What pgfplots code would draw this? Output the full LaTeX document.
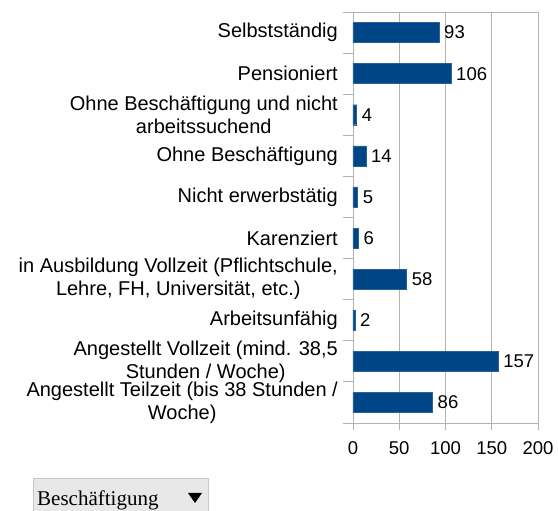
\documentclass[border=0pt]{standalone}
\usepackage{pgfplots}
\pgfplotsset{compat=1.18}
\usepackage{fontspec}
\setmainfont{Liberation Sans}
\newfontfamily\seriffont{Liberation Serif}
\definecolor{barblue}{HTML}{004586}
\definecolor{gridgray}{HTML}{B3B3B3}
\begin{document}
\begin{tikzpicture}[x=1pt,y=1pt]
\useasboundingbox (0pt,0pt) rectangle (558pt,511pt);
\begin{axis}[
  at={(353pt,88pt)}, anchor=south west, scale only axis,
  width=185pt, height=411pt,
  xbar, bar width=20pt,
  xmin=0, xmax=200, ymin=-0.5, ymax=9.5,
  xtick={0,50,...,200},
  ytick={0,...,9},
  yticklabels={
    {Angestellt Teilzeit (bis 38 Stunden /\\Woche)},
    {Angestellt Vollzeit (mind. 38,5\\Stunden / Woche)},
    {Arbeitsunfähig},
    {in Ausbildung Vollzeit (Pflichtschule,\\Lehre, FH, Universität, etc.)},
    {Karenziert},
    {Nicht erwerbstätig},
    {Ohne Beschäftigung},
    {Ohne Beschäftigung und nicht\\arbeitssuchend},
    {Pensioniert},
    {Selbstständig}},
  minor ytick={-0.5,0.5,...,9.5},
  tick align=outside,
  xtick pos=bottom, ytick pos=left,
  major tick length=7pt, minor tick length=10pt,
  major y tick style={draw=none},
  tick style={gridgray, line width=0.8pt},
  xmajorgrids, major grid style={gridgray, line width=0.8pt},
  axis line style={gridgray, line width=0.8pt},
  /pgf/number format/assume math mode=true,
  yticklabel style={font=\fontsize{20}{23}\selectfont, align=center, anchor=east, inner sep=0pt, xshift=-8pt},
  xticklabel style={font=\fontsize{18.5}{21.5}\selectfont, inner sep=0pt, anchor=north, yshift=-11pt},
  nodes near coords,
  nodes near coords style={font=\fontsize{18.5}{21.5}\selectfont, anchor=west, inner sep=0pt, xshift=5pt, black},
]
\addplot[fill=barblue, draw=barblue!85!white] coordinates {
  (86,0) (157,1) (2,2) (58,3) (6,4) (5,5) (14,6) (4,7) (106,8) (93,9)};
\end{axis}
\fill[fill=black!9] (33pt,-2pt) rectangle (208pt,33pt);
\draw[black!22, line width=0.8pt] (33pt,-2pt) -- (33pt,33pt) -- (208pt,33pt) -- (208pt,-2pt);
\node[anchor=base west, inner sep=0pt, font=\seriffont\fontsize{21}{25}\selectfont] at (37pt,5pt) {Beschäftigung};
\fill[black] (188pt,18pt) -- (202pt,18pt) -- (195pt,8pt) -- cycle;
\end{tikzpicture}
\end{document}
